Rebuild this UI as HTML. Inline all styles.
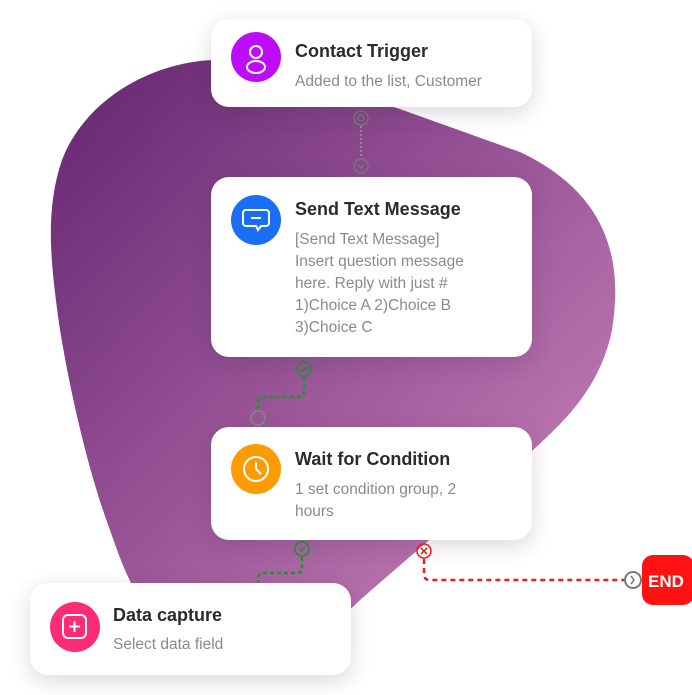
<!DOCTYPE html>
<html><head><meta charset="utf-8"><style>
body{margin:0;width:692px;height:695px;background:#fff;position:relative;overflow:hidden;font-family:"Liberation Sans",sans-serif}
.card{position:absolute;background:#fff;border-radius:18px;box-shadow:0 6px 22px rgba(60,40,70,.18)}
.ic{position:absolute;width:50px;height:50px;border-radius:50%}
.t{position:absolute;font-weight:bold;font-size:18px;color:#2b2b2b}
.s{position:absolute;font-size:15.5px;color:#8a8a8a;line-height:22px}
svg{position:absolute;left:0;top:0}
</style></head><body>
<svg width="692" height="695">
<defs><linearGradient id="g" x1="0" y1="0" x2="1" y2="1"><stop offset="0" stop-color="#642470"/><stop offset="1" stop-color="#d189c0"/></linearGradient></defs>
<path d="M212,60 C150,63 85,100 62,160 C45,210 50,260 60,330 C75,420 95,490 110,530 C122,565 135,600 160,625 C180,645 220,660 260,655 C300,650 330,630 360,600 L533,450 C560,425 600,390 612,330 C625,250 600,190 520,152 L397,108 Z" fill="url(#g)"/>
<g fill="none" stroke-width="1.5">
<circle cx="361" cy="118" r="7" stroke="#777"/><circle cx="361" cy="118" r="3" stroke="#777"/>
<line x1="361" y1="126" x2="361" y2="158" stroke="#999" stroke-dasharray="2 2"/>
<circle cx="361" cy="166" r="7" stroke="#777"/><path d="M358,165 l3,3 l3,-3" stroke="#777"/>
<circle cx="304" cy="369" r="7" stroke="#1a9a2a"/><path d="M301,369 l2,2 l4,-4" stroke="#1a9a2a"/>
<path d="M304,377 L304,392 Q304,397 299,397 L265,397 Q258,397 258,404 L258,410" stroke="#1a9a2a" stroke-width="2.5" stroke-dasharray="4 3"/>
<circle cx="258" cy="418" r="7" stroke="#888"/>
<circle cx="302" cy="549" r="7" stroke="#1a9a2a"/><path d="M299,549 l2,2 l4,-4" stroke="#1a9a2a"/>
<path d="M302,557 L302,568 Q302,573 297,573 L264,573 Q258,573 258,580 L258,585" stroke="#1a9a2a" stroke-width="2.5" stroke-dasharray="4 3"/>
<circle cx="424" cy="551" r="7" stroke="#f21d1d"/><path d="M421,548 l6,6 M427,548 l-6,6" stroke="#f21d1d"/>
<path d="M424,559 L424,574 Q424,580 430,580 L624,580" stroke="#f21d1d" stroke-width="2.5" stroke-dasharray="5 4"/>
</g>
<rect x="642" y="555" width="52" height="50" rx="11" fill="#fe1212"/>
<g fill="none"><circle cx="633" cy="580" r="8" stroke="#777" stroke-width="2" fill="#fff"/><path d="M631,576 l3,4 l-3,4" stroke="#777" stroke-width="1.5"/></g>
<text x="648" y="587" font-family="Liberation Sans" font-weight="bold" font-size="17" fill="#fff">END</text>
</svg>

<div class="card" style="left:211px;top:19px;width:321px;height:88px"></div>
<div class="ic" style="left:231px;top:32px;background:#bd0df8"></div>
<svg width="692" height="695"><g fill="none" stroke="#fff" stroke-width="2"><circle cx="256" cy="52" r="6"/><ellipse cx="256" cy="67" rx="9" ry="6"/></g></svg>
<div class="t" style="left:295px;top:41px">Contact Trigger</div>
<div class="s" style="left:295px;top:71px">Added to the list, Customer</div>

<div class="card" style="left:211px;top:177px;width:321px;height:180px"></div>
<div class="ic" style="left:231px;top:195px;background:#1a6ef5"></div>
<svg width="692" height="695"><g fill="none" stroke="#fff" stroke-width="2"><path d="M246,210 h20 a3,3 0 0 1 3,3 v10 a3,3 0 0 1 -3,3 h-5 l-3,4 l-2,-4 h-10 a3,3 0 0 1 -3,-3 v-10 a3,3 0 0 1 3,-3z"/><line x1="251" y1="218" x2="261" y2="218"/></g></svg>
<div class="t" style="left:295px;top:199px">Send Text Message</div>
<div class="s" style="left:295px;top:229px">[Send Text Message]<br>Insert question message<br>here. Reply with just #<br>1)Choice A 2)Choice B<br>3)Choice C</div>

<div class="card" style="left:211px;top:427px;width:321px;height:113px"></div>
<div class="ic" style="left:231px;top:444px;background:#fd9b02"></div>
<svg width="692" height="695"><g fill="none" stroke="#fff" stroke-width="2"><circle cx="256" cy="469" r="12"/><path d="M256,462 v7 l5,5"/></g></svg>
<div class="t" style="left:295px;top:449px">Wait for Condition</div>
<div class="s" style="left:295px;top:479px">1 set condition group, 2<br>hours</div>

<div class="card" style="left:30px;top:583px;width:321px;height:92px"></div>
<div class="ic" style="left:50px;top:602px;background:#fd2a74"></div>
<svg width="692" height="695"><g fill="none" stroke="#fff" stroke-width="2"><rect x="63" y="615" width="23" height="23" rx="5"/><path d="M74.5,621 v11 M69,626.5 h11"/></g></svg>
<div class="t" style="left:113px;top:605px">Data capture</div>
<div class="s" style="left:113px;top:634px">Select data field</div>
</body></html>
